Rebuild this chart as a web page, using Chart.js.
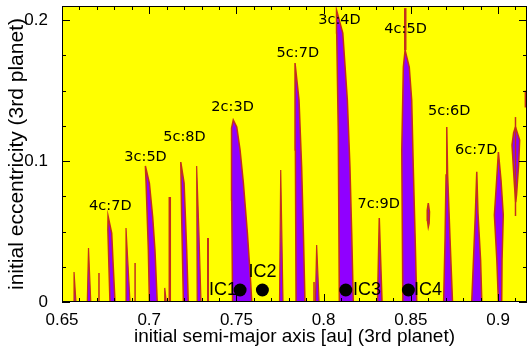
<!DOCTYPE html>
<html>
<head>
<meta charset="utf-8">
<script src="https://cdn.jsdelivr.net/npm/chart.js@4/dist/chart.umd.min.js"></script>
<style>
  html, body { margin: 0; padding: 0; background: #fff; }
  canvas { display: block; }
</style>
</head>
<body>
<canvas id="chart" width="528" height="350"></canvas>
<script>
// Axis ticks and titles
const xTickValues = [0.65, 0.7, 0.75, 0.8, 0.85, 0.9];
const yTickValues = [0, 0.1, 0.2];
const xTitle = 'initial semi-major axis [au] (3rd planet)';
const yTitle = 'initial eccentricity (3rd planet)';

// Resonance tongues (outline points [a, e])
const tongue4c7D = [[0.6775, 0], [0.6763, 0.051], [0.6764, 0.061], [0.6785, 0.0489], [0.6794, 0.0248], [0.6804, 0]];
const tongue3c5D = [[0.7001, 0], [0.6995, 0.0369], [0.6982, 0.0844], [0.6978, 0.0965], [0.7001, 0.0844], [0.7020, 0.0603], [0.7033, 0.0369], [0.7046, 0]];
const tongue5c8D = [[0.7196, 0], [0.7186, 0.0603], [0.7181, 0.0993], [0.7200, 0.0844], [0.7215, 0.0369], [0.7224, 0]];
const tongue2c3D = [[0.7478, 0], [0.7473, 0.0723], [0.7472, 0.1234], [0.7482, 0.1291], [0.7502, 0.1241], [0.7521, 0.1078], [0.7540, 0.0844], [0.7563, 0.0489], [0.7582, 0.0135], [0.7588, 0]];
const tongue5c7D = [[0.7842, 0], [0.7838, 0.1078], [0.7836, 0.1695], [0.7859, 0.1433], [0.7874, 0.0957], [0.7884, 0.0489], [0.7893, 0]];
const tongue3c4D = [[0.8090, 0], [0.8084, 0.1199], [0.8075, 0.1908], [0.8074, 0.2071], [0.8110, 0.1908], [0.8136, 0.1433], [0.8151, 0.0957], [0.8161, 0.0489], [0.8170, 0]];
const tongue4c5D = [[0.8454, 0], [0.8448, 0.1078], [0.8457, 0.1667], [0.8467, 0.1787], [0.8491, 0.1667], [0.8505, 0.1433], [0.8514, 0.0957], [0.8524, 0.0489], [0.8534, 0]];
const tongue7c9D = [[0.8309, 0], [0.8319, 0.0596], [0.8335, 0]];
const tongue5c6D = [[0.8688, 0], [0.8696, 0.044], [0.8702, 0.0901], [0.8706, 0.1241], [0.8711, 0.0901], [0.8725, 0.044], [0.8739, 0]];
const tongue0889 = [[0.8849, 0], [0.8859, 0.0298], [0.8870, 0.0631], [0.8878, 0.0924], [0.8885, 0.0631], [0.8900, 0.0298], [0.8907, 0]];
const tongue6c7D = [[0.9002, 0], [0.8993, 0.0298], [0.8979, 0.0617], [0.8992, 0.0865], [0.9002, 0.1064], [0.9017, 0.0865], [0.9030, 0.0617], [0.9023, 0.0298], [0.9021, 0]];
const islandRight = [[0.9100, 0.1241], [0.9124, 0.1149], [0.9118, 0.0972], [0.9106, 0.0759], [0.9101, 0.0709], [0.9094, 0.0830], [0.9080, 0.1113], [0.9089, 0.1199], [0.9100, 0.1241]];
const islandSmall = [[0.8600, 0.0702], [0.8607, 0.064], [0.8605, 0.056], [0.8600, 0.0532], [0.8595, 0.058], [0.8594, 0.065], [0.8600, 0.0702]];

// narrow high-order tongues
const thinTongues = [
  [[0.6569, 0], [0.6569, 0.0213], [0.6580, 0]],
  [[0.6645, 0], [0.6652, 0.0383], [0.6665, 0]],
  [[0.6870, 0], [0.6867, 0.0525], [0.6890, 0]],
  [[0.7086, 0], [0.7089, 0.0100], [0.7098, 0]],
  [[0.7275, 0], [0.7272, 0.0965], [0.7285, 0.05], [0.7297, 0]],
  [[0.7747, 0], [0.7754, 0.0936], [0.7767, 0]],
  [[0.7953, 0], [0.7960, 0.0404], [0.7974, 0]]
];

// chaotic (red) streaks: a, e from, e to
const streakA = [0.6712, 0.6919, 0.7118, 0.7337, 0.7945, 0.8468, 0.9100, 0.9158];
const streakE0 = [0, 0, 0, 0, 0, 0.1787, 0.0610, 0.138];
const streakE1 = [0.0206, 0.0277, 0.0745, 0.0454, 0.0142, 0.2085, 0.1312, 0.150];
const streakW = [1.5, 1.5, 2.5, 2, 1.5, 2.5, 1.5, 2];

// initial conditions
const icNames = ['IC1', 'IC2', 'IC3', 'IC4'];
const icA = [0.7521, 0.7649, 0.8127, 0.8486];
const icE = [0.0085, 0.0085, 0.0085, 0.0085];
const icLabelA = [0.7423, 0.7650, 0.8249, 0.8599];
const icLabelE = [0.0085, 0.0213, 0.0085, 0.0085];

// resonance labels
const resNames = ['4c:7D', '3c:5D', '5c:8D', '2c:3D', '5c:7D', '3c:4D', '4c:5D', '7c:9D', '5c:6D', '6c:7D'];
const resA = [0.6777, 0.6979, 0.7202, 0.7478, 0.7852, 0.8091, 0.8470, 0.8316, 0.8720, 0.8875];
const resE = [0.0676, 0.1030, 0.1170, 0.1385, 0.1764, 0.1996, 0.1933, 0.0696, 0.1352, 0.1074];

const YELLOW = '#ffff00';
const PURPLE = '#9000ff';
const RED = '#c3301c';
const SANS = 'Liberation Sans, Arial, sans-serif';

function toXY(points) {
    return points.map(p => ({ x: p[0], y: p[1] }));
}

function shapeSet(points, bw, order) {
    return {
        data: toXY(points),
        showLine: true,
        fill: 'shape',
        backgroundColor: PURPLE,
        borderColor: RED,
        borderWidth: bw,
        pointRadius: 0,
        clip: 0,
        order: order
    };
}

const datasets = [];
[tongue4c7D, tongue3c5D, tongue5c8D, tongue2c3D, tongue5c7D, tongue3c4D, tongue4c5D,
 tongue7c9D, tongue5c6D, tongue0889, tongue6c7D, islandRight, islandSmall].forEach(t => datasets.push(shapeSet(t, 1.5, 3)));
thinTongues.forEach(t => datasets.push(shapeSet(t, 1.2, 2)));

streakA.forEach((a, i) => {
    datasets.push({
        data: [{ x: a, y: streakE0[i] }, { x: a, y: streakE1[i] }],
        showLine: true,
        fill: false,
        borderColor: RED,
        borderWidth: streakW[i],
        pointRadius: 0,
        clip: 0,
        order: 1
    });
});

// dots on top of everything (lowest order is drawn last)
datasets.push({
    data: icA.map((a, i) => ({ x: a, y: icE[i] })),
    showLine: false,
    pointRadius: 6.5,
    backgroundColor: '#000',
    borderColor: '#000',
    borderWidth: 0,
    clip: false,
    order: 0
});

// Background, frame, inward ticks and text labels
const decor = {
    id: 'decor',
    beforeDraw(chart) {
        const { ctx, chartArea: a } = chart;
        ctx.save();
        ctx.fillStyle = '#fff';
        ctx.fillRect(0, 0, chart.width, chart.height);
        ctx.fillStyle = YELLOW;
        ctx.fillRect(a.left, a.top, a.right - a.left, a.bottom - a.top);
        ctx.restore();
    },
    afterDatasetsDraw(chart) {
        const { ctx, chartArea: a } = chart;
        const xs = chart.scales.x, ys = chart.scales.y;
        ctx.save();

        // labels
        ctx.fillStyle = '#000';
        ctx.textAlign = 'center';
        ctx.textBaseline = 'middle';
        ctx.font = '14.5px "DejaVu Sans", sans-serif';
        resNames.forEach((t, i) => {
            ctx.fillText(t, xs.getPixelForValue(resA[i]), ys.getPixelForValue(resE[i]));
        });
        ctx.font = '18px ' + SANS;
        icNames.forEach((t, i) => {
            ctx.fillText(t, xs.getPixelForValue(icLabelA[i]), ys.getPixelForValue(icLabelE[i]));
        });

        // frame
        ctx.strokeStyle = '#000';
        ctx.lineWidth = 1;
        ctx.strokeRect(a.left + 0.5, a.top + 0.5, a.right - a.left - 1, a.bottom - a.top - 1);

        // inward ticks
        ctx.beginPath();
        for (let i = 0; i <= 26; i++) {
            const px = Math.round(xs.getPixelForValue(0.65 + i * 0.01)) + 0.5;
            const len = i % 5 === 0 ? 8 : 4;
            ctx.moveTo(px, a.bottom); ctx.lineTo(px, a.bottom - len);
            ctx.moveTo(px, a.top); ctx.lineTo(px, a.top + len);
        }
        for (let i = 0; i <= 8; i++) {
            const py = Math.round(ys.getPixelForValue(i * 0.025)) + 0.5;
            const len = i % 4 === 0 ? 8 : 4;
            ctx.moveTo(a.left, py); ctx.lineTo(a.left + len, py);
            ctx.moveTo(a.right, py); ctx.lineTo(a.right - len, py);
        }
        ctx.stroke();
        ctx.restore();
    }
};

const fmt = v => String(+Number(v).toFixed(2));

new Chart(document.getElementById('chart'), {
    type: 'scatter',
    data: { datasets },
    options: {
        responsive: false,
        animation: false,
        devicePixelRatio: 1,
        events: [],
        layout: { autoPadding: false, padding: { top: 6, right: 1, left: 0, bottom: 0 } },
        plugins: { legend: { display: false }, tooltip: { enabled: false } },
        elements: { line: { tension: 0 } },
        scales: {
            x: {
                type: 'linear',
                min: 0.65,
                max: 0.9166,
                afterBuildTicks: s => { s.ticks = xTickValues.map(v => ({ value: v })); },
                afterFit: s => { s.height = 48; s.paddingLeft = 0; s.paddingRight = 0; },
                grid: { display: false },
                border: { display: false },
                ticks: { padding: 0, color: '#000', maxRotation: 0, autoSkip: false, font: { family: SANS, size: 17 }, callback: fmt },
                title: { display: true, text: xTitle, color: '#000', font: { family: SANS, size: 19 }, padding: { top: 0, bottom: 2 } }
            },
            y: {
                type: 'linear',
                min: 0,
                max: 0.21,
                afterBuildTicks: s => { s.ticks = yTickValues.map(v => ({ value: v })); },
                afterFit: s => { s.width = 62; s.paddingTop = 0; s.paddingBottom = 0; },
                grid: { display: false },
                border: { display: false },
                ticks: { padding: 6, color: '#000', autoSkip: false, font: { family: SANS, size: 17 }, callback: fmt },
                title: { display: true, text: yTitle, color: '#000', font: { family: SANS, size: 21 }, padding: { top: 5, bottom: 5 } }
            }
        }
    },
    plugins: [decor]
});
</script>
</body>
</html>
